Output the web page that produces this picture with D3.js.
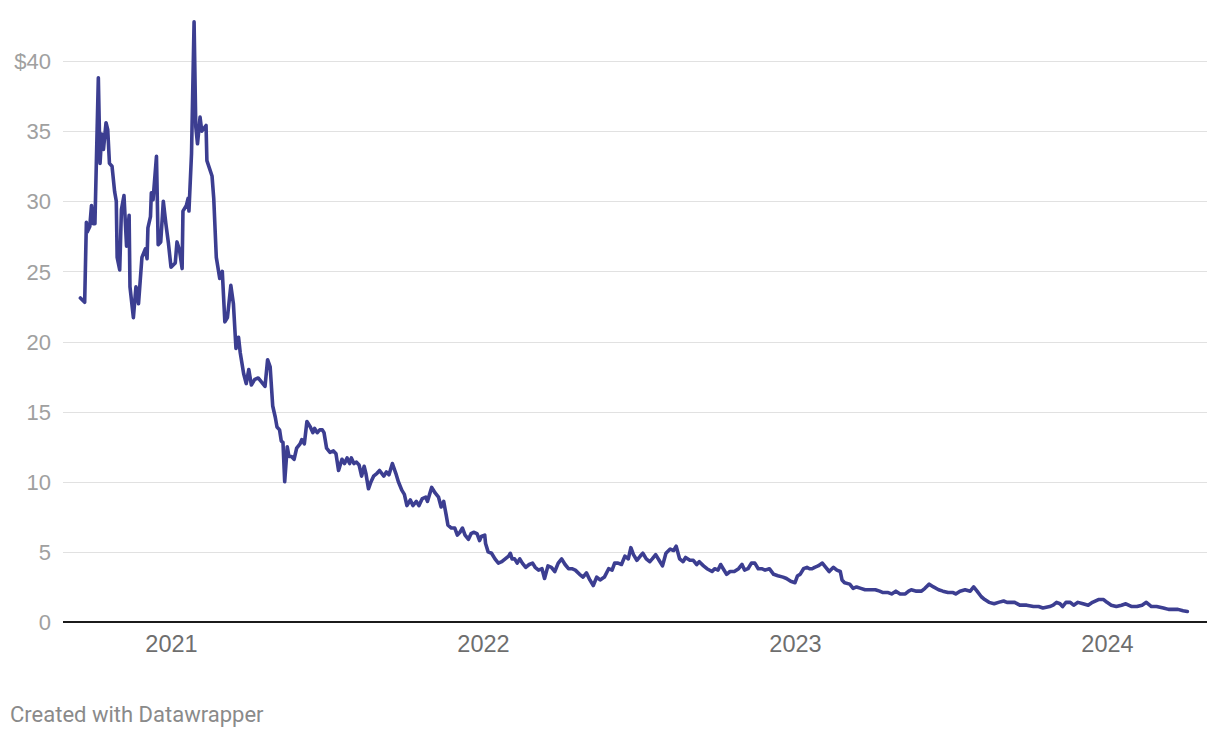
<!DOCTYPE html>
<html>
<head>
<meta charset="utf-8">
<script src="https://cdn.jsdelivr.net/npm/d3@7"></script>
<style>
  html, body { margin: 0; padding: 0; background: #fff; }
  body { width: 1220px; height: 738px; overflow: hidden; font-family: Roboto, "Noto Sans", sans-serif; }
  .y-axis text { fill: #a0a0a0; font-size: 22px; }
  .x-axis text { fill: #6e6e6e; font-size: 23.5px; }
  .footer { fill: #8a8a8a; font-size: 22px; }
</style>
</head>
<body>
<div id="chart"></div>
<script>
'use strict';

// closing price
var dates = [
  '2020-09-17','2020-09-22','2020-09-24','2020-09-25','2020-09-28','2020-09-30','2020-10-02','2020-10-04',
  '2020-10-08','2020-10-10','2020-10-12','2020-10-14','2020-10-17','2020-10-19','2020-10-21','2020-10-24',
  '2020-10-27','2020-10-29','2020-10-30','2020-11-02','2020-11-04','2020-11-07','2020-11-10','2020-11-13',
  '2020-11-14','2020-11-18','2020-11-21','2020-11-24','2020-11-28','2020-12-02','2020-12-04','2020-12-05',
  '2020-12-08','2020-12-09','2020-12-11','2020-12-15','2020-12-17','2020-12-20','2020-12-23','2020-12-26',
  '2020-12-29','2021-01-01','2021-01-06','2021-01-08','2021-01-11','2021-01-14','2021-01-15','2021-01-19',
  '2021-01-21','2021-01-22','2021-01-25','2021-01-28','2021-01-30','2021-02-01','2021-02-04','2021-02-06',
  '2021-02-11','2021-02-12','2021-02-18','2021-02-20','2021-02-23','2021-02-27','2021-03-02','2021-03-05',
  '2021-03-08','2021-03-12','2021-03-15','2021-03-18','2021-03-21','2021-03-23','2021-03-27','2021-03-30',
  '2021-04-02','2021-04-05','2021-04-09','2021-04-13','2021-04-17','2021-04-21','2021-04-24','2021-04-27',
  '2021-04-30','2021-05-03','2021-05-05','2021-05-08','2021-05-10','2021-05-12','2021-05-14','2021-05-17',
  '2021-05-19','2021-05-22','2021-05-25','2021-05-28','2021-06-01','2021-06-03','2021-06-06','2021-06-09',
  '2021-06-13','2021-06-16','2021-06-18','2021-06-21','2021-06-24','2021-06-27','2021-06-29','2021-07-02',
  '2021-07-06','2021-07-10','2021-07-13','2021-07-16','2021-07-20','2021-07-23','2021-07-26','2021-07-29',
  '2021-07-31','2021-08-03','2021-08-06','2021-08-09','2021-08-12','2021-08-15','2021-08-17','2021-08-20',
  '2021-08-23','2021-08-26','2021-08-30','2021-09-02','2021-09-07','2021-09-10','2021-09-13','2021-09-17',
  '2021-09-21','2021-09-24','2021-09-28','2021-10-01','2021-10-04','2021-10-08','2021-10-11','2021-10-15',
  '2021-10-18','2021-10-22','2021-10-26','2021-10-28','2021-11-02','2021-11-06','2021-11-10','2021-11-13',
  '2021-11-16','2021-11-19','2021-11-21','2021-11-25','2021-11-29','2021-12-02','2021-12-05','2021-12-08',
  '2021-12-11','2021-12-15','2021-12-18','2021-12-21','2021-12-25','2021-12-28','2021-12-30','2022-01-03',
  '2022-01-04','2022-01-07','2022-01-11','2022-01-15','2022-01-19','2022-01-23','2022-01-27','2022-01-31',
  '2022-02-02','2022-02-04','2022-02-07','2022-02-10','2022-02-13','2022-02-16','2022-02-20','2022-02-24',
  '2022-02-28','2022-03-03','2022-03-07','2022-03-11','2022-03-14','2022-03-18','2022-03-22','2022-03-26',
  '2022-03-30','2022-04-03','2022-04-07','2022-04-11','2022-04-15','2022-04-19','2022-04-24','2022-04-28',
  '2022-05-02','2022-05-06','2022-05-10','2022-05-14','2022-05-18','2022-05-23','2022-05-28','2022-06-01',
  '2022-06-04','2022-06-08','2022-06-12','2022-06-16','2022-06-20','2022-06-23','2022-06-26','2022-06-30',
  '2022-07-04','2022-07-07','2022-07-11','2022-07-15','2022-07-18','2022-07-22','2022-07-26','2022-07-30',
  '2022-08-03','2022-08-08','2022-08-12','2022-08-15','2022-08-19','2022-08-23','2022-08-26','2022-08-31',
  '2022-09-04','2022-09-08','2022-09-11','2022-09-16','2022-09-20','2022-09-26','2022-09-29','2022-10-03',
  '2022-10-06','2022-10-09','2022-10-13','2022-10-17','2022-10-22','2022-10-27','2022-10-31','2022-11-03',
  '2022-11-07','2022-11-11','2022-11-15','2022-11-19','2022-11-23','2022-11-27','2022-12-02','2022-12-07',
  '2022-12-12','2022-12-18','2022-12-22','2022-12-27','2023-01-01','2023-01-04','2023-01-07','2023-01-11',
  '2023-01-15','2023-01-18','2023-01-21','2023-01-24','2023-01-28','2023-02-02','2023-02-06','2023-02-10',
  '2023-02-15','2023-02-19','2023-02-23','2023-02-25','2023-02-28','2023-03-06','2023-03-10','2023-03-14',
  '2023-03-19','2023-03-24','2023-03-30','2023-04-05','2023-04-10','2023-04-14','2023-04-20','2023-04-24',
  '2023-04-29','2023-05-04','2023-05-10','2023-05-14','2023-05-17','2023-05-23','2023-05-29','2023-06-02',
  '2023-06-07','2023-06-12','2023-06-18','2023-06-23','2023-06-29','2023-07-05','2023-07-08','2023-07-13',
  '2023-07-19','2023-07-25','2023-07-29','2023-08-02','2023-08-07','2023-08-11','2023-08-16','2023-08-22',
  '2023-08-27','2023-09-02','2023-09-06','2023-09-10','2023-09-15','2023-09-21','2023-09-29','2023-10-07',
  '2023-10-13','2023-10-18','2023-10-26','2023-10-30','2023-11-03','2023-11-07','2023-11-10','2023-11-14',
  '2023-11-19','2023-11-23','2023-11-28','2023-12-04','2023-12-10','2023-12-15','2023-12-22','2023-12-28',
  '2024-01-01','2024-01-06','2024-01-12','2024-01-18','2024-01-23','2024-01-30','2024-02-05','2024-02-11',
  '2024-02-16','2024-02-22','2024-02-28','2024-03-07','2024-03-13','2024-03-19','2024-03-24','2024-03-30',
  '2024-04-04'
];

var prices = [
  23.1, 22.8, 28.5, 27.8, 28.2, 29.7, 28.4, 28.4,
  38.8, 32.7, 34.8, 33.7, 35.6, 35.1, 32.7, 32.5,
  30.7, 30.0, 26.0, 25.1, 29.4, 30.4, 26.8, 29.0,
  23.9, 21.7, 23.9, 22.7, 26.0, 26.6, 25.9, 28.1,
  28.9, 30.6, 30.1, 33.2, 26.9, 27.1, 30.0, 28.4,
  27.0, 25.3, 25.6, 27.1, 26.5, 25.2, 29.3, 29.7,
  30.2, 29.3, 33.4, 42.8, 35.3, 34.1, 36.0, 35.0,
  35.4, 32.9, 31.8, 30.2, 26.0, 24.5, 25.0, 21.4,
  21.7, 24.0, 22.7, 19.5, 20.3, 19.2, 17.7, 17.0,
  18.0, 16.9, 17.3, 17.4, 17.1, 16.8, 18.7, 18.2,
  15.4, 14.6, 13.9, 13.7, 12.9, 12.8, 10.0, 12.5,
  11.8, 11.8, 11.6, 12.4, 12.7, 13.0, 12.7, 14.3,
  13.9, 13.5, 13.8, 13.5, 13.7, 13.7, 13.5, 12.4,
  12.1, 12.2, 12.0, 10.8, 11.6, 11.3, 11.7, 11.3,
  11.7, 11.3, 11.4, 11.2, 10.4, 11.1, 10.6, 9.5,
  10.0, 10.4, 10.6, 10.8, 10.4, 10.7, 10.5, 11.3,
  10.6, 10.0, 9.4, 9.1, 8.3, 8.7, 8.3, 8.6,
  8.3, 8.8, 8.9, 8.6, 9.6, 9.2, 8.9, 8.2,
  8.6, 7.6, 6.9, 6.7, 6.7, 6.2, 6.4, 6.7,
  6.2, 5.9, 6.3, 6.4, 6.3, 5.8, 6.1, 6.2,
  5.6, 5.0, 4.9, 4.5, 4.2, 4.3, 4.5, 4.7,
  4.9, 4.5, 4.5, 4.2, 4.5, 4.2, 3.9, 4.1,
  4.2, 3.9, 3.7, 3.8, 3.1, 4.0, 3.9, 3.6,
  4.2, 4.5, 4.1, 3.8, 3.8, 3.7, 3.4, 3.2,
  3.5, 3.0, 2.6, 3.2, 3.0, 3.2, 3.8, 3.7,
  4.2, 4.2, 4.1, 4.7, 4.5, 5.3, 4.8, 4.4,
  4.7, 4.9, 4.5, 4.3, 4.5, 4.8, 4.4, 4.0,
  4.9, 5.2, 5.1, 5.4, 4.5, 4.3, 4.6, 4.4,
  4.4, 4.1, 4.3, 4.0, 3.8, 3.6, 3.8, 3.7,
  4.1, 3.8, 3.4, 3.6, 3.6, 3.8, 4.1, 3.7,
  3.8, 4.2, 4.2, 3.8, 3.8, 3.7, 3.8, 3.4,
  3.3, 3.2, 3.1, 2.9, 2.8, 3.3, 3.4, 3.8,
  3.9, 3.8, 3.8, 3.9, 4.0, 4.2, 3.9, 3.6,
  3.9, 3.7, 3.6, 3.0, 2.8, 2.7, 2.4, 2.5,
  2.4, 2.3, 2.3, 2.3, 2.2, 2.1, 2.1, 2.0,
  2.2, 2.0, 2.0, 2.2, 2.3, 2.2, 2.2, 2.4,
  2.7, 2.5, 2.3, 2.2, 2.1, 2.1, 2.0, 2.2,
  2.3, 2.2, 2.5, 2.2, 1.8, 1.6, 1.4, 1.3,
  1.4, 1.5, 1.4, 1.4, 1.4, 1.2, 1.2, 1.1,
  1.1, 1.0, 1.1, 1.2, 1.4, 1.3, 1.1, 1.4,
  1.4, 1.2, 1.4, 1.3, 1.2, 1.4, 1.6, 1.6,
  1.4, 1.2, 1.1, 1.2, 1.3, 1.1, 1.1, 1.2,
  1.4, 1.1, 1.1, 1.0, 0.9, 0.9, 0.9, 0.8,
  0.75
];

var yTicks = [0, 5, 10, 15, 20, 25, 30, 35, 40];
var yearTicks = ['2021-01-01', '2022-01-01', '2023-01-01', '2024-01-01'];
var footerText = 'Created with Datawrapper';

var width = 1220, height = 738;
var plot = { left: 63, right: 1207, top: 61, bottom: 622 };

var parseDate = d3.utcParse('%Y-%m-%d');
var series = dates.map(function(d, i) { return { date: parseDate(d), value: prices[i] }; });

var svg = d3.select('#chart').append('svg')
  .attr('width', width)
  .attr('height', height)
  .attr('viewBox', '0 0 ' + width + ' ' + height);

// year labels sit centred on 1 January
var x = d3.scaleUtc()
  .domain([parseDate(yearTicks[0]), parseDate(yearTicks[3])])
  .range([171, 1107]);

var y = d3.scaleLinear()
  .domain([0, 40])
  .range([plot.bottom, plot.top]);

// y axis + gridlines
var yAxis = d3.axisLeft(y)
  .tickValues(yTicks)
  .tickSize(-(plot.right - plot.left))
  .tickPadding(12)
  .tickFormat(function(d) { return d === 40 ? '$' + d : d; });

var yg = svg.append('g')
  .attr('class', 'y-axis')
  .attr('transform', 'translate(' + plot.left + ',0)')
  .call(yAxis);
yg.select('.domain').remove();
yg.selectAll('line')
  .attr('stroke', '#e1e1e1')
  .attr('stroke-width', 1)
  .attr('shape-rendering', 'crispEdges');
yg.selectAll('text').attr('dy', '0.35em');

// x axis
var xAxis = d3.axisBottom(x)
  .tickValues(yearTicks.map(parseDate))
  .tickSize(0)
  .tickPadding(13)
  .tickFormat(d3.utcFormat('%Y'));

var xg = svg.append('g')
  .attr('class', 'x-axis')
  .attr('transform', 'translate(0,' + plot.bottom + ')')
  .call(xAxis);
xg.select('.domain').remove();

// baseline
svg.append('line')
  .attr('x1', plot.left)
  .attr('x2', plot.right)
  .attr('y1', y(0))
  .attr('y2', y(0))
  .attr('stroke', '#1b1b1b')
  .attr('stroke-width', 2);

// price line
var lineGen = d3.line()
  .curve(d3.curveLinear)
  .x(function(d) { return x(d.date); })
  .y(function(d) { return y(d.value); });

svg.append('path')
  .datum(series)
  .attr('d', lineGen)
  .attr('fill', 'none')
  .attr('stroke', '#3c3e91')
  .attr('stroke-width', 3.6)
  .attr('stroke-linejoin', 'round')
  .attr('stroke-linecap', 'round');

svg.append('text')
  .attr('class', 'footer')
  .attr('x', 10)
  .attr('y', 722)
  .text(footerText);
</script>
</body>
</html>
